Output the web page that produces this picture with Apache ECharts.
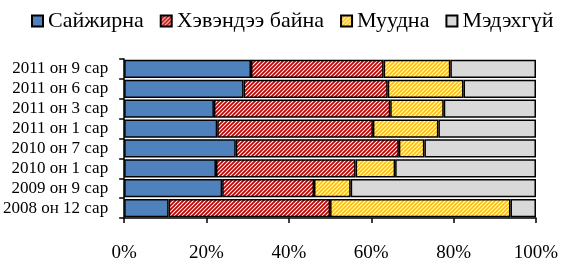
<!DOCTYPE html>
<html>
<head>
<meta charset="utf-8">
<script src="https://cdn.jsdelivr.net/npm/echarts@6/dist/echarts.min.js"></script>
<style>
  html, body { margin: 0; padding: 0; background: #fff; }
  #chart { width: 562px; height: 263px; }
</style>
</head>
<body>
<div id="chart"></div>
<script>
// 数据（从上到下）
var categories = ['2011 он 9 сар', '2011 он 6 сар', '2011 он 3 сар', '2011 он 1 сар',
                  '2010 он 7 сар', '2010 он 1 сар', '2009 он 9 сар', '2008 он 12 сар'];
var seriesNames = ['Сайжирна', 'Хэвэндээ байна', 'Муудна', 'Мэдэхгүй'];
var improve = [30.8, 29.0, 21.8, 22.6, 27.1, 22.3, 23.8, 10.8];
var same    = [32.2, 35.0, 42.8, 37.8, 39.6, 33.9, 22.3, 39.2];
var worse   = [16.2, 18.4, 13.0, 15.9, 6.2, 9.6, 8.9, 43.8];
var unknown = [20.8, 17.6, 22.4, 23.7, 27.1, 34.2, 45.0, 6.2];
var xTicks = [0, 20, 40, 60, 80, 100];

(function () {
  // 斜线填充
  function stripes(color) {
    var c = document.createElement('canvas');
    c.width = 4; c.height = 4;
    var ctx = c.getContext('2d');
    ctx.fillStyle = '#fff';
    ctx.fillRect(0, 0, 4, 4);
    ctx.strokeStyle = color;
    ctx.lineWidth = 1.8;
    ctx.beginPath();
    ctx.moveTo(0, 4); ctx.lineTo(4, 0);
    ctx.moveTo(-1, 1); ctx.lineTo(1, -1);
    ctx.moveTo(3, 5); ctx.lineTo(5, 3);
    ctx.stroke();
    return { image: c, repeat: 'repeat' };
  }

  var fills = ['#4F81BD', stripes('#C00000'), stripes('#FFC000'), '#D9D9D9'];
  var values = [improve, same, worse, unknown];

  var myChart = echarts.init(document.getElementById('chart'));
  var font = '"Liberation Serif", "Times New Roman", serif';

  var series = seriesNames.map(function (name, i) {
    return {
      name: name,
      type: 'bar',
      stack: 'total',
      barCategoryGap: '8%',
      itemStyle: { color: fills[i], borderColor: '#000', borderWidth: 1.5 },
      data: values[i]
    };
  });

  myChart.setOption({
    animation: false,
    textStyle: { fontFamily: font },
    legend: {
      top: 6,
      left: 27,
      width: 560,
      padding: 4,
      itemWidth: 11,
      itemHeight: 11,
      itemGap: 16,
      textStyle: { fontFamily: font, fontSize: 22, color: '#000' },
      data: seriesNames.map(function (n) {
        return { name: n, icon: 'rect' };
      })
    },
    grid: { left: 123, right: 26, top: 59, bottom: 35 },
    xAxis: {
      type: 'value',
      min: xTicks[0],
      max: xTicks[xTicks.length - 1],
      interval: 20,
      axisLine: { show: true, lineStyle: { color: '#000', width: 1.5 } },
      axisTick: { show: true, length: 5, lineStyle: { color: '#000', width: 1.5 } },
      splitLine: { show: false },
      axisLabel: {
        color: '#000', fontSize: 19, fontFamily: font, margin: 26,
        formatter: '{value}%'
      }
    },
    yAxis: {
      type: 'category',
      inverse: true,
      data: categories,
      axisLine: { show: true, lineStyle: { color: '#000', width: 1.5 } },
      axisTick: { show: true, length: 5, lineStyle: { color: '#000', width: 1.5 } },
      axisLabel: { color: '#000', fontSize: 17, fontFamily: font, margin: 16, interval: 0 }
    },
    series: series
  });
})();
</script>
</body>
</html>
